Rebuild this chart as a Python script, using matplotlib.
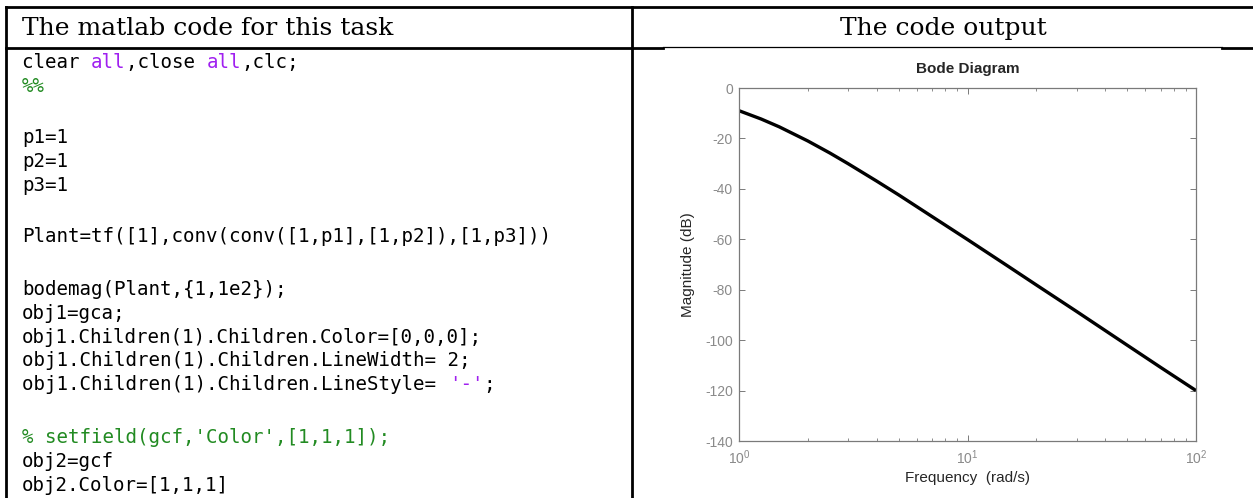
import matplotlib.pyplot as plt
from matplotlib.ticker import LogLocator, NullFormatter

plt.rcParams['axes.unicode_minus'] = False

# values
freq = [1, 1.25, 1.5, 2, 2.5, 3, 4, 5, 7, 10, 15, 20, 30, 50, 70, 100]
mag_db = [-9.0, -12.3, -15.4, -21.0, -25.8, -30.0, -36.9, -42.4, -51.0,
          -60.1, -70.6, -78.1, -88.6, -102.0, -110.8, -120.0]
yticks = [0, -20, -40, -60, -80, -100, -120, -140]

BLACK = '#000000'
PURPLE = '#A020F0'
GREEN = '#228B22'

# code listing: one entry per row, (segments, y centre in px)
code_rows = [
    ([('clear ', BLACK), ('all', PURPLE), (',close ', BLACK), ('all', PURPLE), (',clc;', BLACK)], 62),
    ([('%%', GREEN)], 86),
    ([('p1=1', BLACK)], 137),
    ([('p2=1', BLACK)], 161),
    ([('p3=1', BLACK)], 185),
    ([('Plant=tf([1],conv(conv([1,p1],[1,p2]),[1,p3]))', BLACK)], 236),
    ([('bodemag(Plant,{1,1e2});', BLACK)], 289),
    ([('obj1=gca;', BLACK)], 313),
    ([('obj1.Children(1).Children.Color=[0,0,0];', BLACK)], 337),
    ([('obj1.Children(1).Children.LineWidth= 2;', BLACK)], 360),
    ([('obj1.Children(1).Children.LineStyle= ', BLACK), ("'-'", PURPLE), (';', BLACK)], 384),
    ([("% setfield(gcf,'Color',[1,1,1]);", GREEN)], 437),
    ([('obj2=gcf', BLACK)], 461),
    ([('obj2.Color=[1,1,1]', BLACK)], 485),
]

W, H = 1253, 498
fig = plt.figure(figsize=(W / 100, H / 100), dpi=100)

# page / table layer in pixel coordinates
page = fig.add_axes([0, 0, 1, 1])
page.set_xlim(0, W)
page.set_ylim(H, 0)
page.axis('off')

lw_thick = 2.0
page.plot([6, W], [6.5, 6.5], color='k', lw=lw_thick)
page.plot([6, 6], [6.5, H], color='k', lw=lw_thick)
page.plot([632, 632], [6.5, H], color='k', lw=lw_thick)
page.plot([6, 663], [47.5, 47.5], color='k', lw=lw_thick)
page.plot([663, 1222], [47, 47], color='k', lw=0.9)
page.plot([1222, W], [47.5, 47.5], color='k', lw=lw_thick)

page.text(22, 28, 'The matlab code for this task', fontsize=18,
          family='DejaVu Serif', va='center', ha='left')
page.text(943, 28, 'The code output', fontsize=18,
          family='DejaVu Serif', va='center', ha='center')

mono_size = 13.8
char_w = 0.602 * mono_size * 100 / 72
for segs, y in code_rows:
    col = 0
    for txt, c in segs:
        page.text(22 + col * char_w, y, txt, fontsize=mono_size,
                  family='DejaVu Sans Mono', color=c, va='center', ha='left')
        col += len(txt)

# Bode plot
ax = fig.add_axes([739 / W, 1 - 441 / H, (1196 - 739) / W, (441 - 88) / H])
ax.semilogx(freq, mag_db, color='k', lw=2.4, solid_capstyle='butt')
ax.set_xlim(1, 100)
ax.set_ylim(-140, 0)
ax.set_yticks(yticks)
ax.xaxis.set_minor_locator(LogLocator(base=10, subs=range(2, 10)))
ax.xaxis.set_minor_formatter(NullFormatter())

grey = '#8a8a8a'
for s in ax.spines.values():
    s.set_color('#7a7a7a')
    s.set_linewidth(0.9)
ax.tick_params(which='both', direction='in', top=True, right=True,
               colors='#7a7a7a', labelcolor=grey, labelsize=10,
               labelfontfamily='Liberation Sans')
ax.tick_params(which='major', length=4, width=0.7)
ax.tick_params(which='minor', length=2.5, width=0.6)
ax.tick_params(axis='x', pad=5.5)
ax.tick_params(axis='y', pad=4.5)

ax.set_title('Bode Diagram', fontsize=11, fontweight='bold',
             family='Liberation Sans', color='#262626', pad=11)
ax.set_ylabel('Magnitude (dB)', fontsize=11, family='Liberation Sans',
              color='#262626', labelpad=7)
ax.set_xlabel('Frequency  (rad/s)', fontsize=11, family='Liberation Sans',
              color='#262626', labelpad=3)

fig.savefig('out.png', dpi=100)
